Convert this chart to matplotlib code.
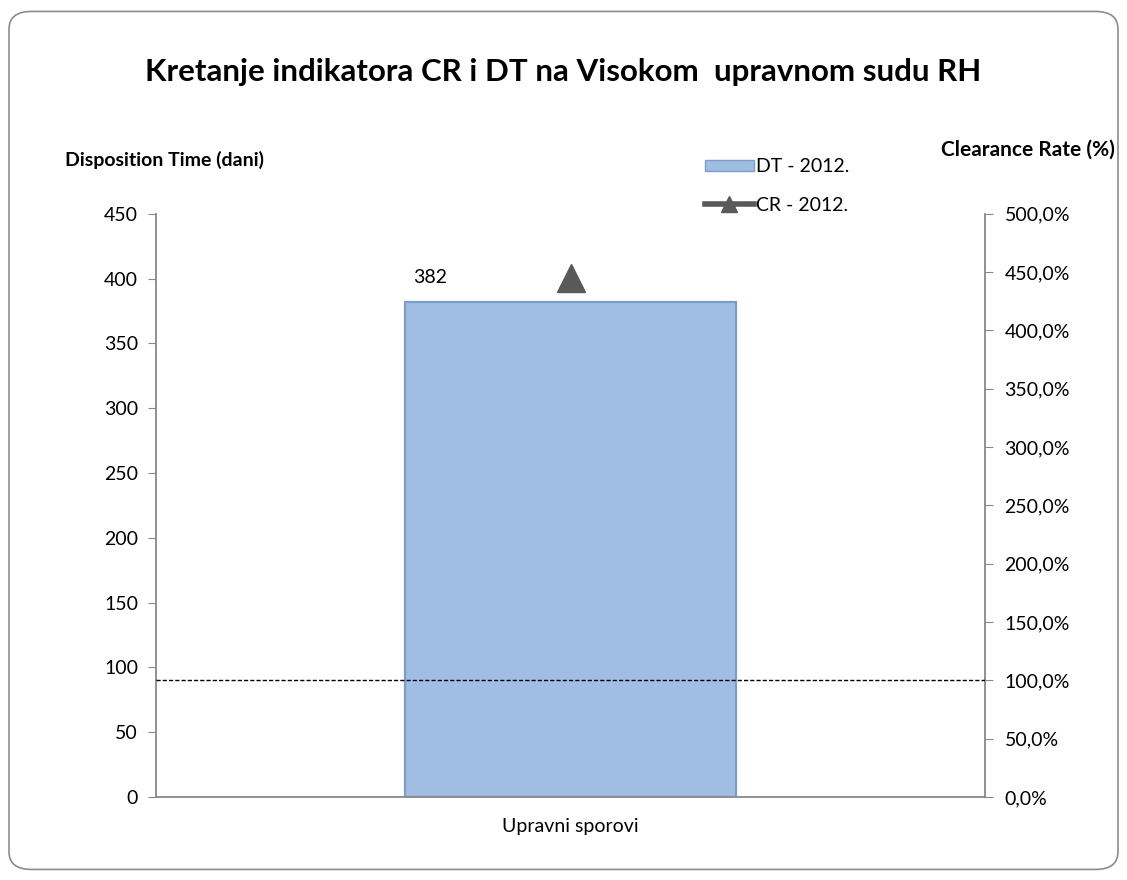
import matplotlib.pyplot as plt
from matplotlib.patches import FancyBboxPatch
from matplotlib.ticker import FuncFormatter
from matplotlib.lines import Line2D
from matplotlib.patches import Patch

plt.rcParams['font.family'] = ['Lato', 'DejaVu Sans']

categories = ['Upravni sporovi']
dt_2012 = [382]
cr_2012 = [445.0]
cr_reference = 100.0

fig = plt.figure(figsize=(11.27, 8.8), dpi=100)

# rounded frame around whole chart
frame = FancyBboxPatch((0.008, 0.012), 0.984, 0.975, boxstyle="round,pad=0,rounding_size=0.02",
                       transform=fig.transFigure, facecolor='none', edgecolor='#8c8c8c', linewidth=1.2)
fig.patches.append(frame)

ax = fig.add_axes([0.1385, 0.0943, 0.7355, 0.6627])
ax.patch.set_alpha(0)
x = list(range(len(categories)))

bars = ax.bar(x, dt_2012, width=0.4, color='#A0BEE4', edgecolor='#7F9CC4', linewidth=1.6, zorder=2)
for xi, v in zip(x, dt_2012):
    ax.text(xi - 0.17, v + 12, str(v), ha='center', va='bottom', fontsize=14)

ax.set_xlim(-0.5, 0.5)
ax.set_ylim(0, 450)
ax.set_yticks(range(0, 451, 50))
ax.set_xticks(x)
ax.set_xticklabels(categories, fontsize=14)
ax.tick_params(axis='x', length=0, pad=15)
ax.tick_params(axis='y', labelsize=14, color='#888888', length=6, pad=7)
for s in ['top', 'right']:
    ax.spines[s].set_visible(False)
for s in ['left', 'bottom']:
    ax.spines[s].set_color('#888888')
    ax.spines[s].set_linewidth(1.3)

ax2 = ax.twinx()
ax2.set_ylim(0, 500)
ax2.set_yticks(range(0, 501, 50))
ax2.yaxis.set_major_formatter(FuncFormatter(lambda v, p: f"{v:.1f}".replace('.', ',') + '%'))
ax2.tick_params(axis='y', labelsize=14, color='#888888', length=6, pad=8)
for s in ['top', 'left', 'bottom']:
    ax2.spines[s].set_visible(False)
ax2.spines['right'].set_color('#888888')
ax2.spines['right'].set_linewidth(1.3)

ax2.axhline(cr_reference, color='black', linestyle='--', linewidth=1, dashes=(3, 1.5), zorder=3)
ax2.plot(x, cr_2012, marker='^', markersize=20, color='#595959', linestyle='none', zorder=4)

fig.text(0.5, 0.918, 'Kretanje indikatora CR i DT na Visokom  upravnom sudu RH',
         ha='center', va='center', fontsize=22.5, fontweight='bold')
fig.text(0.058, 0.818, 'Disposition Time (dani)', ha='left', va='center', fontsize=14, fontweight='bold')
fig.text(0.989, 0.83, 'Clearance Rate (%)', ha='right', va='center', fontsize=15, fontweight='bold')

handles = [Patch(facecolor='#A0BEE4', edgecolor='#7F9CC4'),
           Line2D([0], [0], color='#595959', linewidth=4, marker='^', markersize=11)]
fig.legend(handles, ['DT - 2012.', 'CR - 2012.'], loc='upper left', bbox_to_anchor=(0.61, 0.84),
           frameon=False, fontsize=14, labelspacing=1.1, handlelength=2.5, handleheight=0.5,
           handletextpad=0.1)

fig.savefig('out.png', dpi=100)
